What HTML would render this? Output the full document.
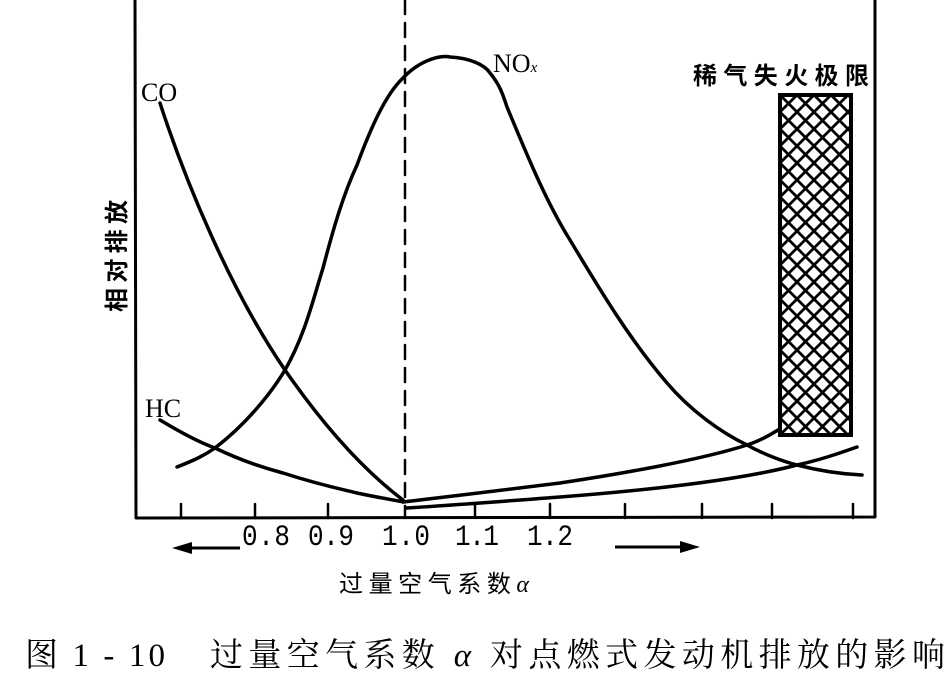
<!DOCTYPE html>
<html><head><meta charset="utf-8"><style>html,body{margin:0;padding:0;background:#fff}svg{display:block}</style></head><body>
<svg width="952" height="677" viewBox="0 0 952 677" xmlns="http://www.w3.org/2000/svg">
<defs>
<pattern id="h" width="17" height="17" patternUnits="userSpaceOnUse" x="780" y="95">
<path d="M0,0 L17,17 M17,0 L0,17" stroke="#000" stroke-width="2.8"/>
</pattern>
</defs>
<g fill="none" stroke="#000" stroke-linecap="round" stroke-linejoin="round">
<path d="M135,0 L136,518 L875,517 L875,0" stroke-width="3"/>
<g stroke-width="2.5">
<path d="M181,518v-14M255,518v-14M328,518v-14M475,518v-14M550,518v-14M625,518v-14M702,518v-14M772,518v-14M853,518v-14"/>
</g>
<path d="M405,0 L405,518" stroke-width="2.5" stroke-dasharray="14,9"/>
<g stroke-width="3.5">
<path d="M160,103 C185,180 230,290 285,370 C330,435 370,475 403,500"/>
<path d="M160,420 C180,432 198,442 215,448 C240,460 260,467 283,473 C320,485 345,490 357,493 C380,498 395,500 403,502"/>
<path d="M177,467 C195,460 205,455 215,448 C245,425 270,395 285,370 C305,335 313,300 323,268 C333,230 343,195 357,165 C370,130 385,95 403,78 C420,60 440,55 450,57 C470,58 485,65 490,73 C500,85 503,95 507,107 C525,150 545,200 570,240 C600,290 630,340 667,383 C690,410 720,432 747,445 C765,455 785,462 797,465 C820,471 840,474 862,475"/>
<path d="M403,502 L470,494 C520,488 545,485 560,483 C620,474 700,460 747,445 C760,441 770,435 778,430"/>
<path d="M407,508 C470,504 520,500 560,497 C650,490 740,480 797,465 C820,460 840,453 857,447"/>
</g>
</g>
<rect x="780" y="95" width="71" height="340" fill="url(#h)" stroke="#000" stroke-width="4"/>
<g font-family="Liberation Serif, serif" font-size="26" fill="#000">
<text x="141" y="101">CO</text>
<text x="145" y="417">HC</text>
<text x="493" y="72">NO<tspan font-size="15" font-style="italic">x</tspan></text>
</g>
<text x="693" y="84" font-family="Liberation Sans, Noto Sans CJK SC, sans-serif" font-size="24" font-weight="bold" textLength="176">稀气失火极限</text>
<text transform="translate(125,312) rotate(-90)" font-family="Liberation Sans, Noto Sans CJK SC, sans-serif" font-size="24" font-weight="bold" textLength="112">相对排放</text>
<g font-family="Liberation Mono, monospace" font-size="26" fill="#000" transform="translate(0,545) scale(1,1.15) translate(0,-545)">
<text x="242" y="545" textLength="48">0.8</text>
<text x="308" y="545" textLength="46">0.9</text>
<text x="382" y="545" textLength="48">1.0</text>
<text x="455" y="545" textLength="44">1.1</text>
<text x="527" y="545" textLength="46">1.2</text>
</g>
<path d="M240,548 L188,548" stroke="#000" stroke-width="3"/>
<polygon points="172,548 192,542 192,554" fill="#000"/>
<path d="M615,547 L684,547" stroke="#000" stroke-width="3"/>
<polygon points="700,547 680,541 680,553" fill="#000"/>
<text x="339" y="592" font-family="Liberation Sans, Noto Sans CJK SC, sans-serif" font-size="24" textLength="190">过量空气系数<tspan font-family="Liberation Serif, serif" font-style="italic">α</tspan></text>
<text x="25" y="666" font-family="Liberation Serif, Noto Serif CJK SC, serif" font-size="33" textLength="140">图 1 - 10</text>
<text x="210" y="666" font-family="Liberation Serif, Noto Serif CJK SC, serif" font-size="33" textLength="735">过量空气系数 <tspan font-style="italic">α</tspan> 对点燃式发动机排放的影响</text>
</svg>
</body></html>
